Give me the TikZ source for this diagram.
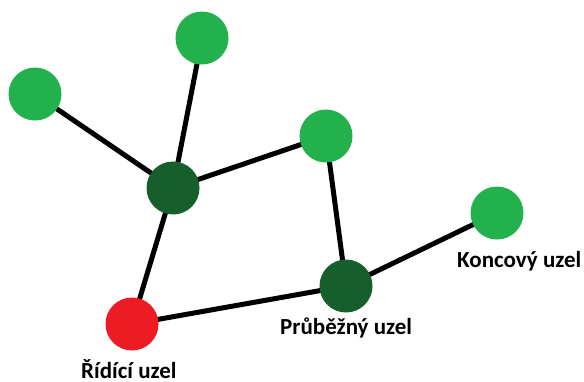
\documentclass[tikz,border=0pt]{standalone}
\usepackage{fontspec}
\setmainfont{Carlito}
\definecolor{leafgreen}{RGB}{34,177,76}
\definecolor{transitgreen}{RGB}{22,94,43}
\definecolor{controlred}{RGB}{237,28,36}
\tikzset{
  netnode/.style={circle, minimum size=53pt, inner sep=0pt},
  leaf/.style={netnode, fill=leafgreen},
  transit/.style={netnode, fill=transitgreen},
  control/.style={netnode, fill=controlred},
  link/.style={line width=5pt, black},
  caption/.style={inner sep=0pt, anchor=base west, font=\bfseries\fontsize{23}{26}\selectfont}
}
\begin{document}
\begin{tikzpicture}[x=1pt, y=-1pt]
  \useasboundingbox (0,0) rectangle (584,381);
  % node positions (named coordinates)
  \coordinate (tl)   at (35,94);
  \coordinate (top)  at (202,38);
  \coordinate (hub)  at (173,188);
  \coordinate (mid)  at (326,136);
  \coordinate (end)  at (497,213);
  \coordinate (pass) at (346,286);
  \coordinate (ctl)  at (132,324);
  % links first, so the discs cover their ends
  \draw[link] (tl) -- (hub);
  \draw[link] (top) -- (hub);
  \draw[link] (hub) -- (mid);
  \draw[link] (hub) -- (ctl);
  \draw[link] (mid) -- (pass);
  \draw[link] (ctl) -- (pass);
  \draw[link] (pass) -- (end);
  % nodes
  \node[leaf]    (ntl)  at (tl)   {};
  \node[leaf]    (ntop) at (top)  {};
  \node[transit] (nhub) at (hub)  {};
  \node[leaf]    (nmid) at (mid)  {};
  \node[leaf]    (nend) at (end)  {};
  \node[transit] (npass) at (pass) {};
  \node[control] (nctl) at (ctl)  {};
  % captions
  \node[caption] (lend)  at (457,267) {Koncový uzel};
  \node[caption] (lpass) at (280,334) {Průběžný uzel};
  \node[caption] (lctl)  at (81,378)  {Řídící uzel};
\end{tikzpicture}
\end{document}
